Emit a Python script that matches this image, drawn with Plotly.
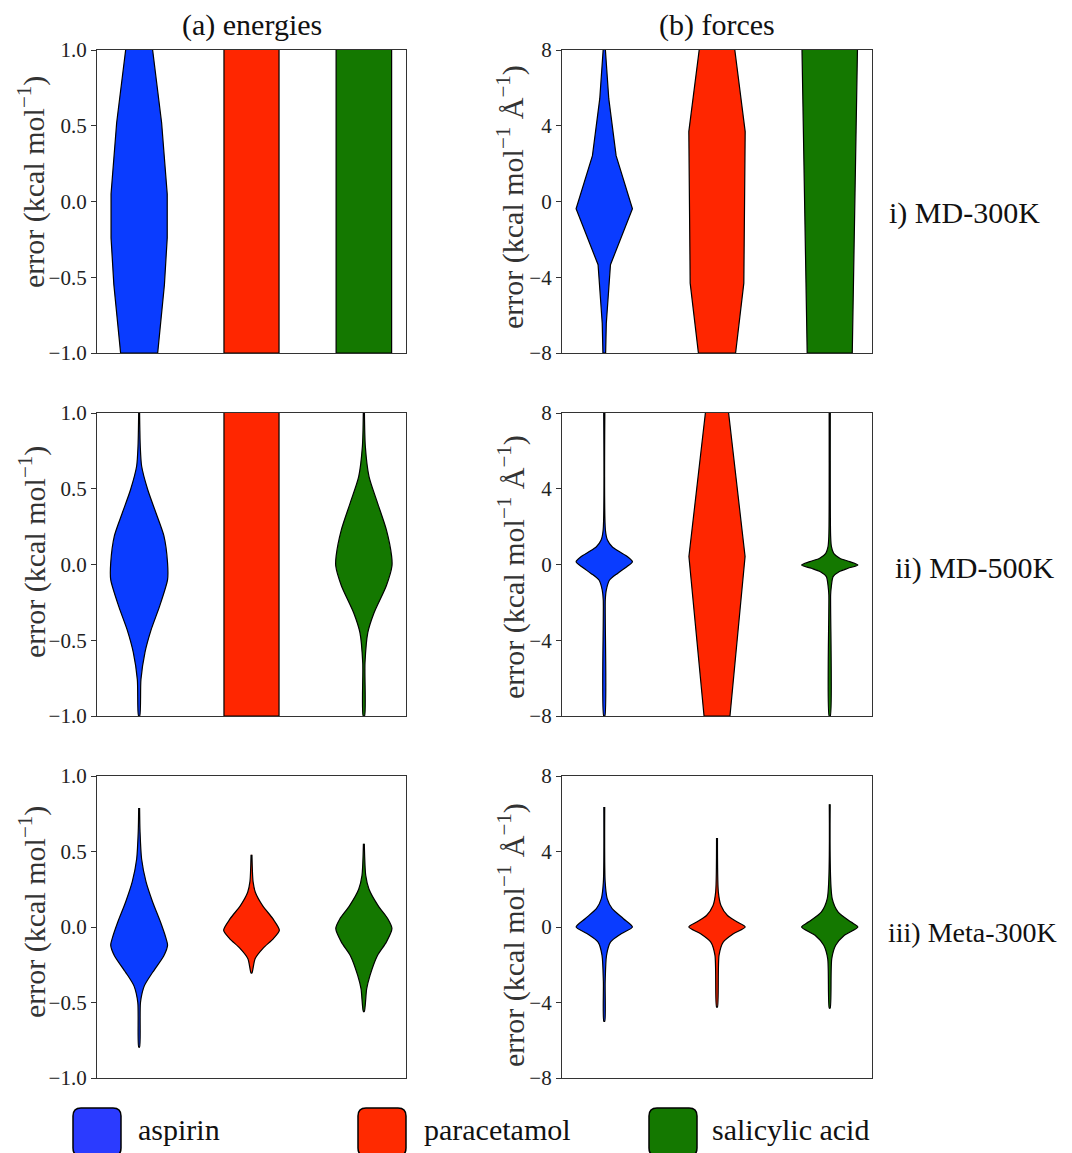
import plotly.graph_objects as go

# page body has an 8 px margin, so the figure is drawn 8 px smaller and shifted
OFFSET = 8
W_PX, H_PX = 1072 - OFFSET, 1153 - OFFSET

CATEGORIES = ["aspirin", "paracetamol", "salicylic acid"]
POSITIONS = [1, 2, 3]
COLORS = ["#0a3cff", "#ff2600", "#147800"]
LEGEND_COLORS = ["#2b3bff", "#ff2a00", "#147800"]

COL_TITLES = ["(a) energies", "(b) forces"]
ROW_LABELS = ["i) MD-300K", "ii) MD-500K", "iii) Meta-300K"]
E_TICKVALS = [-1.0, -0.5, 0.0, 0.5, 1.0]
E_TICKTEXT = ["\u22121.0", "\u22120.5", "0.0", "0.5", "1.0"]
F_TICKVALS = [-8, -4, 0, 4, 8]
F_TICKTEXT = ["\u22128", "\u22124", "0", "4", "8"]
E_RANGE = [-1.0, 1.0]
F_RANGE = [-8.0, 8.0]

# violin profiles: y levels and half-widths (x units)
# Row 1: MD-300K, energies
E300_ASP_Y = [1.0, 0.52, 0.05, -0.24, -0.55, -1.0]
E300_ASP_W = [0.12, 0.20, 0.25, 0.25, 0.225, 0.165]
E300_PAR_Y = [1.0, -1.0]
E300_PAR_W = [0.245, 0.245]
E300_SAL_Y = [1.0, -1.0]
E300_SAL_W = [0.247, 0.247]
# Row 1: MD-300K, forces
F300_ASP_Y = [8.0, 5.43, 2.42, -0.38, -3.34, -6.44, -8.0]
F300_ASP_W = [0.01, 0.04, 0.105, 0.25, 0.055, 0.018, 0.012]
F300_PAR_Y = [8.0, 3.69, -4.31, -8.0]
F300_PAR_W = [0.158, 0.25, 0.238, 0.165]
F300_SAL_Y = [8.0, -8.0]
F300_SAL_W = [0.246, 0.20]
# Row 2: MD-500K, energies
E500_ASP_Y = [1.0, 0.78, 0.65, 0.495, 0.34, 0.19, 0.01, -0.1, -0.28, -0.43, -0.58, -0.76, -1.0]
E500_ASP_W = [0.004, 0.01, 0.022, 0.076, 0.15, 0.22, 0.253, 0.253, 0.18, 0.107, 0.052, 0.016, 0.005]
E500_PAR_Y = [1.0, -1.0]
E500_PAR_W = [0.245, 0.245]
E500_SAL_Y = [1.0, 0.78, 0.58, 0.41, 0.23, 0.055, -0.01, -0.14, -0.32, -0.45, -0.65, -1.0]
E500_SAL_W = [0.005, 0.013, 0.046, 0.12, 0.2, 0.247, 0.25, 0.2, 0.09, 0.035, 0.01, 0.006]
# Row 2: MD-500K, forces
F500_ASP_Y = [8.0, 1.82, 1.29, 0.94, 0.68, 0.41, 0.15, -0.12, -0.47, -0.82, -1.35, -1.87, -8.0]
F500_ASP_W = [0.005, 0.01, 0.028, 0.07, 0.133, 0.207, 0.25, 0.2, 0.118, 0.047, 0.018, 0.009, 0.005]
F500_PAR_Y = [8.0, 0.42, -8.0]
F500_PAR_W = [0.103, 0.249, 0.115]
F500_SAL_Y = [8.0, 1.5, 0.94, 0.59, 0.33, 0.15, -0.03, -0.2, -0.38, -0.64, -1.17, -1.6, -8.0]
F500_SAL_W = [0.005, 0.008, 0.015, 0.035, 0.089, 0.177, 0.25, 0.163, 0.083, 0.03, 0.014, 0.008, 0.005]
# Row 3: Meta-300K, energies
EMETA_ASP_Y = [0.788, 0.63, 0.45, 0.30, 0.166, 0.033, -0.077, -0.12, -0.19, -0.30, -0.39, -0.5, -0.795]
EMETA_ASP_W = [0.004, 0.008, 0.022, 0.061, 0.12, 0.19, 0.24, 0.253, 0.22, 0.12, 0.046, 0.012, 0.004]
EMETA_PAR_Y = [0.479, 0.30, 0.23, 0.14, 0.055, -0.022, -0.077, -0.14, -0.21, -0.305]
EMETA_PAR_W = [0.004, 0.014, 0.034, 0.1, 0.19, 0.248, 0.195, 0.104, 0.032, 0.004]
EMETA_SAL_Y = [0.552, 0.34, 0.25, 0.14, 0.055, -0.01, -0.1, -0.19, -0.32, -0.41, -0.56]
EMETA_SAL_W = [0.004, 0.017, 0.046, 0.128, 0.213, 0.25, 0.2, 0.12, 0.055, 0.025, 0.004]
# Row 3: Meta-300K, forces
FMETA_ASP_Y = [6.36, 2.38, 1.5, 0.97, 0.44, 0.0, -0.36, -0.8, -1.5, -2.9, -5.0]
FMETA_ASP_W = [0.004, 0.008, 0.026, 0.07, 0.17, 0.25, 0.15, 0.055, 0.02, 0.008, 0.004]
FMETA_PAR_Y = [4.71, 1.85, 1.14, 0.61, 0.26, 0.0, -0.36, -0.8, -1.5, -4.24]
FMETA_PAR_W = [0.004, 0.012, 0.035, 0.093, 0.18, 0.25, 0.145, 0.055, 0.018, 0.004]
FMETA_SAL_Y = [6.5, 1.5, 0.79, 0.26, 0.0, -0.44, -0.97, -1.68, -4.3]
FMETA_SAL_W = [0.004, 0.022, 0.075, 0.19, 0.25, 0.13, 0.053, 0.018, 0.004]

PANELS = [
    (1, 1, [(E300_ASP_Y, E300_ASP_W), (E300_PAR_Y, E300_PAR_W), (E300_SAL_Y, E300_SAL_W)]),
    (1, 2, [(F300_ASP_Y, F300_ASP_W), (F300_PAR_Y, F300_PAR_W), (F300_SAL_Y, F300_SAL_W)]),
    (2, 1, [(E500_ASP_Y, E500_ASP_W), (E500_PAR_Y, E500_PAR_W), (E500_SAL_Y, E500_SAL_W)]),
    (2, 2, [(F500_ASP_Y, F500_ASP_W), (F500_PAR_Y, F500_PAR_W), (F500_SAL_Y, F500_SAL_W)]),
    (3, 1, [(EMETA_ASP_Y, EMETA_ASP_W), (EMETA_PAR_Y, EMETA_PAR_W), (EMETA_SAL_Y, EMETA_SAL_W)]),
    (3, 2, [(FMETA_ASP_Y, FMETA_ASP_W), (FMETA_PAR_Y, FMETA_PAR_W), (FMETA_SAL_Y, FMETA_SAL_W)]),
]

FONT = "Liberation Serif, Times New Roman, serif"


def px_x(x):
    return (x - OFFSET) / W_PX


def px_y(y):
    return 1 - (y - OFFSET) / H_PX


X_DOMAINS = [[px_x(97), px_x(406)], [px_x(562), px_x(872)]]
Y_DOMAINS = [[px_y(353), px_y(50)], [px_y(716), px_y(413)], [px_y(1078), px_y(776)]]

fig = go.Figure()
layout = dict(
    width=W_PX, height=H_PX,
    margin=dict(l=0, r=0, t=0, b=0),
    paper_bgcolor="white", plot_bgcolor="white",
    showlegend=False,
    font=dict(family=FONT, color="#111"),
)

for row, col, violins in PANELS:
    k = (row - 1) * 2 + col
    sfx = "" if k == 1 else str(k)
    for i, (ys, ws) in enumerate(violins):
        p = POSITIONS[i]
        smooth = row > 1 and len(ys) > 6
        xs = [p + w for w in ws] + [p - w for w in ws[::-1]]
        yy = list(ys) + list(ys[::-1])
        fig.add_trace(go.Scatter(
            x=xs, y=yy, mode="lines", fill="toself",
            fillcolor=COLORS[i],
            line=dict(color="black", width=1.2,
                      shape="spline" if smooth else "linear",
                      smoothing=0.7 if smooth else None),
            xaxis="x" + sfx, yaxis="y" + sfx,
            hoverinfo="skip", name=CATEGORIES[i],
        ))
    is_e = col == 1
    layout["xaxis" + sfx] = dict(
        domain=X_DOMAINS[col - 1], range=[0.625, 3.375],
        showticklabels=False, ticks="", showgrid=False, zeroline=False,
        showline=True, linecolor="#333", linewidth=1.2, mirror=True,
        anchor="y" + sfx, fixedrange=True,
    )
    layout["yaxis" + sfx] = dict(
        domain=Y_DOMAINS[row - 1], range=E_RANGE if is_e else F_RANGE,
        tickvals=E_TICKVALS if is_e else F_TICKVALS,
        ticktext=E_TICKTEXT if is_e else F_TICKTEXT,
        ticks="outside", ticklen=5, tickwidth=1.1, tickcolor="#333",
        tickfont=dict(family=FONT, size=21, color="#222"),
        showgrid=False, zeroline=False,
        showline=True, linecolor="#333", linewidth=1.2, mirror=True,
        anchor="x" + sfx, automargin=False, fixedrange=True,
    )

annotations = []
col_centers = [251.5, 717]
for c, t in enumerate(COL_TITLES):
    annotations.append(dict(x=px_x(col_centers[c]), y=px_y(25), xref="paper", yref="paper",
                            text=t, showarrow=False, xanchor="center", yanchor="middle",
                            font=dict(family=FONT, size=30, color="#111")))
row_label_y = [213, 568, 932]
row_label_x = [887, 893, 886]
row_label_size = [30, 30, 28]
for r, t in enumerate(ROW_LABELS):
    annotations.append(dict(x=px_x(row_label_x[r]), y=px_y(row_label_y[r]), xref="paper", yref="paper",
                            text=t, showarrow=False, xanchor="left", yanchor="middle",
                            font=dict(family=FONT, size=row_label_size[r], color="#111")))
YT_E = "error (kcal mol<sup>\u22121</sup>)"
YT_F = "error (kcal mol<sup>\u22121</sup> \u00c5<sup>\u22121</sup>)"
yt_e_centers = [182, 552, 912]
yt_f_centers = [197, 567, 935]
for r in range(3):
    annotations.append(dict(x=px_x(32), y=px_y(yt_e_centers[r]), xref="paper", yref="paper", text=YT_E,
                            textangle=-90, showarrow=False, xanchor="center", yanchor="middle",
                            font=dict(family=FONT, size=30, color="#333")))
    annotations.append(dict(x=px_x(511), y=px_y(yt_f_centers[r]), xref="paper", yref="paper", text=YT_F,
                            textangle=-90, showarrow=False, xanchor="center", yanchor="middle",
                            font=dict(family=FONT, size=30, color="#333")))

# legend swatches
shapes = []
sw_x0 = [73, 358, 649]
txt_x = [136, 422, 710]
r_px = 8
for i, cat in enumerate(CATEGORIES):
    x0, x1 = sw_x0[i], sw_x0[i] + 48
    y0, y1 = 1108, 1156
    pts = dict(
        a=(px_x(x0 + r_px), px_y(y0)), b=(px_x(x1 - r_px), px_y(y0)), c=(px_x(x1), px_y(y0)),
        d=(px_x(x1), px_y(y0 + r_px)), e=(px_x(x1), px_y(y1 - r_px)), f=(px_x(x1), px_y(y1)),
        g=(px_x(x1 - r_px), px_y(y1)), h=(px_x(x0 + r_px), px_y(y1)), i=(px_x(x0), px_y(y1)),
        j=(px_x(x0), px_y(y1 - r_px)), k=(px_x(x0), px_y(y0 + r_px)), l=(px_x(x0), px_y(y0)),
    )
    f = lambda key: f"{pts[key][0]:.5f},{pts[key][1]:.5f}"
    path = (f"M {f('a')} L {f('b')} Q {f('c')} {f('d')} L {f('e')} Q {f('f')} {f('g')} "
            f"L {f('h')} Q {f('i')} {f('j')} L {f('k')} Q {f('l')} {f('a')} Z")
    shapes.append(dict(type="path", path=path, xref="paper", yref="paper",
                       fillcolor=LEGEND_COLORS[i], line=dict(color="black", width=1.5)))
    annotations.append(dict(x=px_x(txt_x[i]), y=px_y(1129), xref="paper", yref="paper",
                            text=cat, showarrow=False, xanchor="left", yanchor="middle",
                            font=dict(family=FONT, size=30, color="#111")))

layout["annotations"] = annotations
layout["shapes"] = shapes
fig.update_layout(**layout)
fig.write_html("out.html")
